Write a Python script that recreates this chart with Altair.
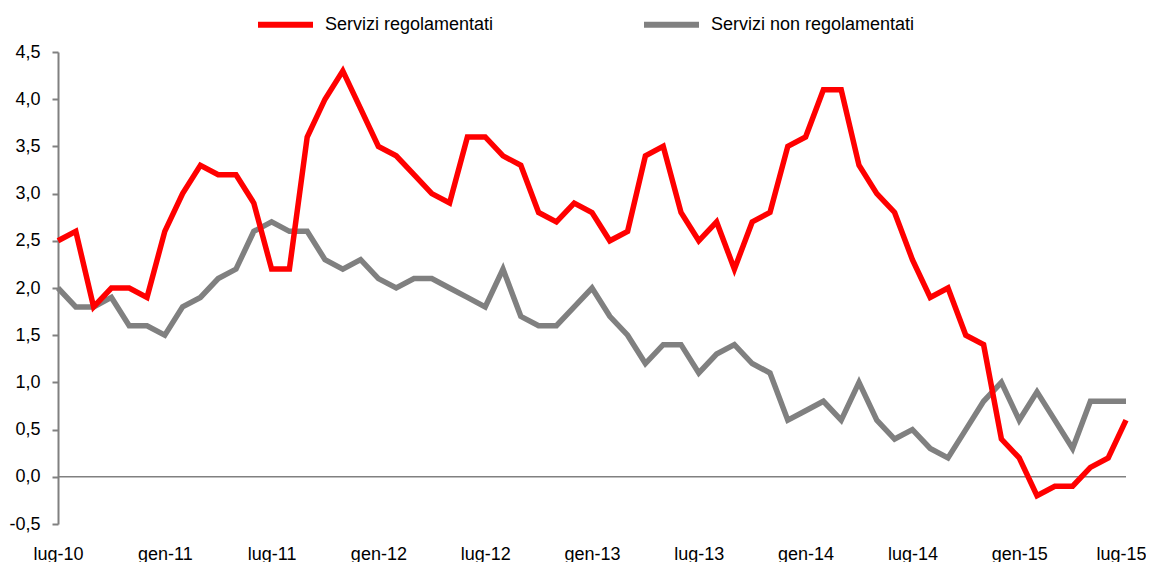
import altair as alt
import pandas as pd

tick_labels = ["lug-10", "gen-11", "lug-11", "gen-12", "lug-12", "gen-13",
               "lug-13", "gen-14", "lug-14", "gen-15", "lug-15"]

series_names = ["Servizi regolamentati", "Servizi non regolamentati"]
series_colors = ["#FF0000", "#808080"]

regolamentati = [2.5, 2.6, 1.8, 2.0, 2.0, 1.9, 2.6, 3.0, 3.3, 3.2, 3.2, 2.9,
                 2.2, 2.2, 3.6, 4.0, 4.3, 3.9, 3.5, 3.4, 3.2, 3.0, 2.9, 3.6,
                 3.6, 3.4, 3.3, 2.8, 2.7, 2.9, 2.8, 2.5, 2.6, 3.4, 3.5, 2.8,
                 2.5, 2.7, 2.2, 2.7, 2.8, 3.5, 3.6, 4.1, 4.1, 3.3, 3.0, 2.8,
                 2.3, 1.9, 2.0, 1.5, 1.4, 0.4, 0.2, -0.2, -0.1, -0.1, 0.1, 0.2,
                 0.6]

non_regolamentati = [2.0, 1.8, 1.8, 1.9, 1.6, 1.6, 1.5, 1.8, 1.9, 2.1, 2.2, 2.6,
                     2.7, 2.6, 2.6, 2.3, 2.2, 2.3, 2.1, 2.0, 2.1, 2.1, 2.0, 1.9,
                     1.8, 2.2, 1.7, 1.6, 1.6, 1.8, 2.0, 1.7, 1.5, 1.2, 1.4, 1.4,
                     1.1, 1.3, 1.4, 1.2, 1.1, 0.6, 0.7, 0.8, 0.6, 1.0, 0.6, 0.4,
                     0.5, 0.3, 0.2, 0.5, 0.8, 1.0, 0.6, 0.9, 0.6, 0.3, 0.8, 0.8,
                     0.8]

months = list(range(len(regolamentati)))

df_reg = pd.DataFrame({"m": months, "v": regolamentati, "s": series_names[0]})
df_non = pd.DataFrame({"m": months, "v": non_regolamentati, "s": series_names[1]})
df_zero = pd.DataFrame({"v": [0.0]})

label_array = "[" + ",".join("'" + t + "'" for t in tick_labels) + "]"

x_enc = alt.X(
    "m:Q",
    scale=alt.Scale(domain=[0, 60], nice=False, zero=False),
    axis=alt.Axis(
        values=list(range(0, 61, 6)),
        labelExpr=label_array + "[round(datum.value/6)]",
        domain=False, ticks=False, tickSize=0, grid=False,
        labelPadding=21, labelFontSize=18, labelColor="#000000",
        labelFont="Liberation Sans", title=None, labelFlush=False,
        labelOffset={"condition": {"test": "datum.value == 60", "value": -5}, "value": 0},
    ),
)

y_enc = alt.Y(
    "v:Q",
    scale=alt.Scale(domain=[-0.5, 4.5], nice=False, zero=False),
    axis=alt.Axis(
        values=[-0.5, 0, 0.5, 1, 1.5, 2, 2.5, 3, 3.5, 4, 4.5],
        labelExpr="(datum.value < 0 ? '-' : '') + replace(format(abs(datum.value), '.1f'), '.', ',')",
        domainColor="#808080", domainWidth=2,
        tickColor="#808080", tickWidth=2, tickSize=6,
        grid=False, labelPadding=12, labelFontSize=18, labelColor="#000000",
        labelFont="Liberation Sans", title=None,
    ),
)

color_enc = alt.Color(
    "s:N",
    scale=alt.Scale(domain=series_names, range=series_colors),
    legend=alt.Legend(
        title=None, orient="none", legendX=197, legendY=-58,
        direction="horizontal", symbolType="stroke", symbolSize=3025,
        symbolStrokeWidth=6, labelFontSize=18, labelFont="Liberation Sans",
        labelColor="#000000", labelOffset=9, columnPadding=138, padding=0,
        labelLimit=400,
    ),
)

zero = alt.Chart(df_zero).mark_rule(color="#808080", strokeWidth=1.5).encode(
    y=alt.Y("v:Q", scale=alt.Scale(domain=[-0.5, 4.5], nice=False, zero=False))
)

line_non = alt.Chart(df_non).mark_line(strokeWidth=5.5).encode(
    x=x_enc, y=y_enc, color=color_enc
)
line_reg = alt.Chart(df_reg).mark_line(strokeWidth=5.5).encode(
    x=x_enc, y=y_enc, color=color_enc
)

chart = alt.layer(zero, line_non, line_reg).properties(
    width=1068, height=472,
    autosize=alt.AutoSizeParams(type="none"),
    padding={"left": 50, "top": 44, "right": 20, "bottom": 38},
).configure_view(stroke=None)

chart.save("out.html", embed_options={"renderer": "svg", "actions": False})
